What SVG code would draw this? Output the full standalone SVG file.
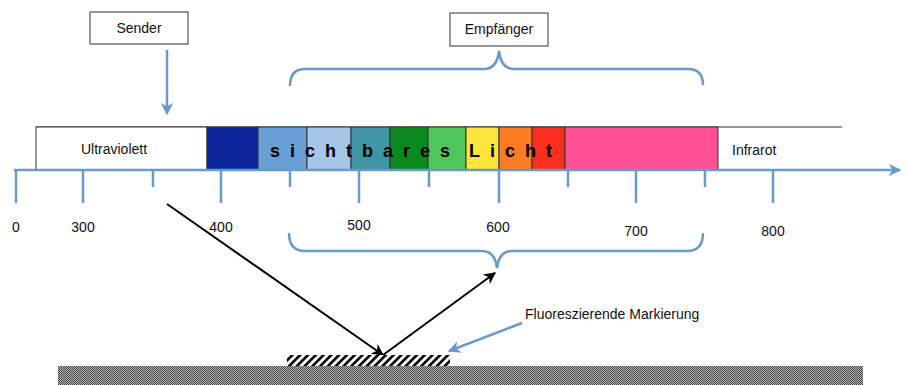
<svg xmlns="http://www.w3.org/2000/svg" width="908" height="385" viewBox="0 0 908 385">
<style>
text{font-family:"Liberation Sans",Arial,sans-serif;fill:#111;font-size:14px}
.box{fill:#fff;stroke:#333;stroke-width:1}
.band{stroke:#333;stroke-width:1}
.blue{stroke:#6a9acb;stroke-width:2.5;fill:none}
.tick{stroke:#6a9acb;stroke-width:2.5}
.blk{stroke:#000;stroke-width:2;fill:none}
.num{text-anchor:middle}
</style>
<defs>
<marker id="ab" viewBox="0 0 10 10" refX="9" refY="5" markerWidth="5" markerHeight="5" orient="auto"><path d="M0,0 L10,5 L0,10 L3,5 z" fill="#6a9acb"/></marker>
<marker id="ak" viewBox="0 0 10 10" refX="9" refY="5" markerWidth="6" markerHeight="6" orient="auto"><path d="M0,0 L10,5 L0,10 L3,5 z" fill="#000"/></marker>
<pattern id="dith" width="2" height="2" patternUnits="userSpaceOnUse"><rect width="2" height="2" fill="#b0b0b0"/><rect width="1" height="1" fill="#4a4a4a"/><rect x="1" y="1" width="1" height="1" fill="#4a4a4a"/></pattern>
<pattern id="hatch" width="5.5" height="5.5" patternUnits="userSpaceOnUse" patternTransform="rotate(45)"><rect width="5.5" height="5.5" fill="#fff"/><rect width="2.6" height="5.5" fill="#000"/></pattern>
</defs>

<g id="sender"><rect class="box" x="90" y="12" width="98" height="32"/><text x="139" y="33" text-anchor="middle">Sender</text></g>
<g id="empfaenger"><rect class="box" x="450" y="13" width="98" height="33"/><text x="499" y="34" text-anchor="middle">Empfänger</text></g>

<g id="spectrum">
<line x1="36" y1="127" x2="842" y2="127" stroke="#333" stroke-width="1"/>
<rect class="box" x="36" y="127" width="171" height="43"/>
<rect class="band" x="207" y="127" width="51" height="43" fill="#0a249a"/>
<rect class="band" x="258" y="127" width="49" height="43" fill="#679fd6"/>
<rect class="band" x="307" y="127" width="44" height="43" fill="#a6c6e8"/>
<rect class="band" x="351" y="127" width="39" height="43" fill="#3f95a6"/>
<rect class="band" x="390" y="127" width="38" height="43" fill="#0a8a1e"/>
<rect class="band" x="428" y="127" width="38" height="43" fill="#4fc65a"/>
<rect class="band" x="466" y="127" width="33" height="43" fill="#fde43a"/>
<rect class="band" x="499" y="127" width="33" height="43" fill="#fb7c22"/>
<rect class="band" x="532" y="127" width="33" height="43" fill="#fb2d1f"/>
<rect class="band" x="565" y="127" width="153" height="43" fill="#ff5096"/>
<text x="114" y="154" text-anchor="middle">Ultraviolett</text>
<text x="732" y="155">Infrarot</text>
<text x="270" y="157" style="font-size:18px;font-weight:bold;letter-spacing:10px;fill:#000">sichtbares<tspan x="469">Licht</tspan></text>
</g>

<g id="axis">
<line class="tick" x1="14" y1="170" x2="900" y2="170" marker-end="url(#ab)"/>
<g class="tick">
<line x1="16" y1="170" x2="16" y2="203"/><line x1="83" y1="170" x2="83" y2="203"/><line x1="153" y1="170" x2="153" y2="187"/>
<line x1="221" y1="170" x2="221" y2="203"/><line x1="290" y1="170" x2="290" y2="187"/><line x1="359" y1="170" x2="359" y2="203"/>
<line x1="429" y1="170" x2="429" y2="187"/><line x1="499" y1="170" x2="499" y2="203"/><line x1="568" y1="170" x2="568" y2="187"/>
<line x1="636" y1="170" x2="636" y2="203"/><line x1="705" y1="170" x2="705" y2="187"/><line x1="773" y1="170" x2="773" y2="203"/>
</g>
<text class="num" x="16" y="232">0</text><text class="num" x="83" y="232">300</text><text class="num" x="221" y="232">400</text>
<text class="num" x="359" y="230">500</text><text class="num" x="498" y="232">600</text><text class="num" x="636" y="236">700</text><text class="num" x="773" y="236">800</text>
</g>

<g id="connectors">
<line class="blue" x1="167" y1="50" x2="167" y2="114" marker-end="url(#ab)"/>
<path class="blue" d="M290,86 Q290,69 305,69 L484,69 Q497,69 499,51 Q501,69 514,69 L688,69 Q703,69 703,85"/>
<path class="blue" d="M289,233 Q289,251 305,251 L482,251 Q495,251 497,268 Q499,251 512,251 L687,251 Q703,251 703,233"/>
<line class="blk" x1="167" y1="204" x2="383" y2="355" marker-end="url(#ak)"/>
<line class="blk" x1="383" y1="355" x2="495" y2="273" marker-end="url(#ak)"/>
<line class="blue" x1="522" y1="323" x2="449" y2="351" marker-end="url(#ab)"/>
</g>

<g id="markierung">
<rect x="287" y="355" width="163" height="11" fill="url(#hatch)"/>
<text x="525" y="319">Fluoreszierende Markierung</text>
</g>
<g id="surface"><rect x="58" y="366" width="805" height="19" fill="url(#dith)"/></g>
</svg>
